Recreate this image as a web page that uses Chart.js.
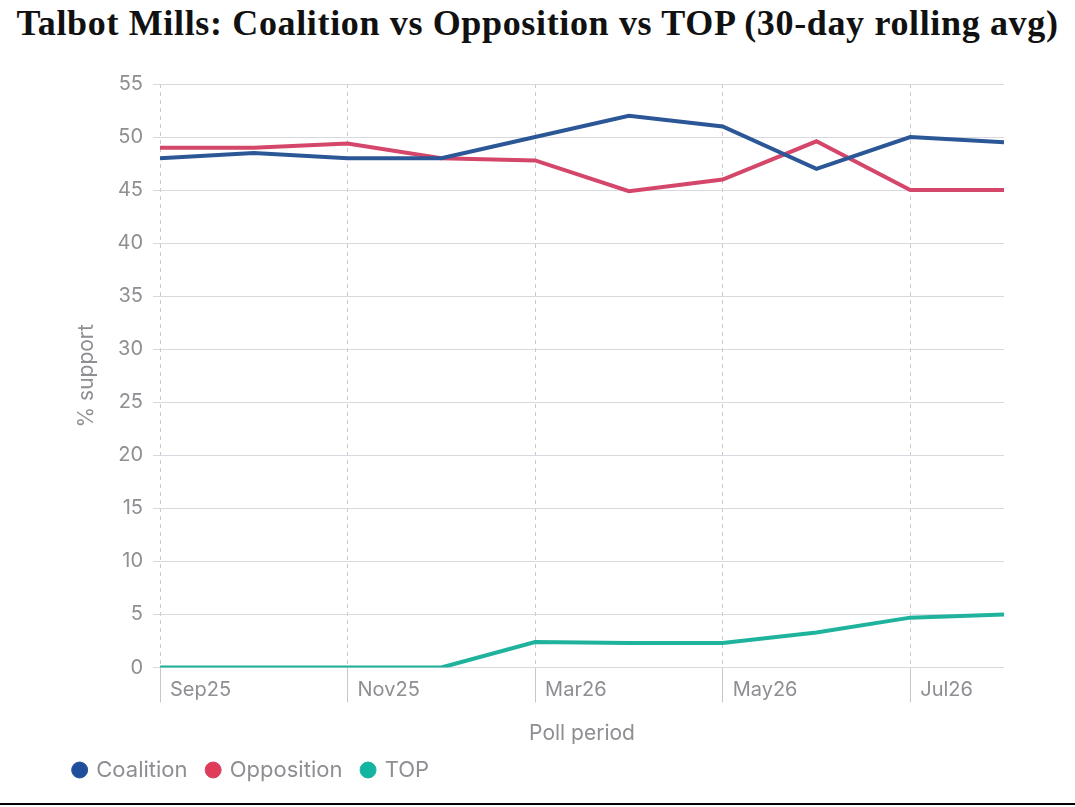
<!DOCTYPE html>
<html>
<head>
<meta charset="utf-8">
<script src="https://cdn.jsdelivr.net/npm/chart.js@4"></script>
<style>
  html, body { margin: 0; padding: 0; background: #fff; width: 1075px; height: 807px; overflow: hidden; }
  #title { position: absolute; left: 0; top: 0px; width: 1075px; text-align: center; line-height: 46px;
    font-family: "Liberation Serif", "DejaVu Serif", serif; font-weight: bold; font-size: 36px;
    color: #111; letter-spacing: 0.65px; white-space: nowrap; }
  #wrap { position: absolute; left: 0; top: 55px; width: 1075px; height: 745px; }
  #rule { position: absolute; left: 0; top: 803px; width: 1075px; height: 2px; background: #000; }
</style>
</head>
<body>
<div id="title">Talbot Mills: Coalition vs Opposition vs TOP (30-day rolling avg)</div>
<div id="wrap"><canvas id="c"></canvas></div>
<div id="rule"></div>
<script>
const categories = ["Sep25", "Oct25", "Nov25", "Jan26", "Mar26", "Apr26", "May26", "Jun26", "Jul26", "Aug26"];
const coalition  = [48, 48.5, 48, 48, 50, 52, 51, 47, 50, 49.5];
const opposition = [49, 49, 49.4, 48, 47.8, 44.9, 46, 49.6, 45, 45];
const topParty   = [0, 0, 0, 0, 2.4, 2.3, 2.3, 3.3, 4.7, 5.0];
const yTicks = [0, 5, 10, 15, 20, 25, 30, 35, 40, 45, 50, 55];

const gray = "#8e8e93";
const font = "Inter, 'Noto Sans', sans-serif";

new Chart(document.getElementById("c"), {
  type: "line",
  data: {
    labels: categories,
    datasets: [
      { label: "Coalition", data: coalition, borderColor: "#2b5797", backgroundColor: "#1f4f9c" },
      { label: "Opposition", data: opposition, borderColor: "#d4476a", backgroundColor: "#e03c5a" },
      { label: "TOP", data: topParty, borderColor: "#1fb39d", backgroundColor: "#12b5a0" }
    ]
  },
  options: {
    responsive: true,
    maintainAspectRatio: false,
    animation: false,
    devicePixelRatio: 1,
    layout: { padding: { top: 29, left: 54, right: 71, bottom: 9 } },
    elements: {
      line: { borderWidth: 4, tension: 0 },
      point: { radius: 0, hoverRadius: 0 }
    },
    plugins: {
      title: { display: false },
      tooltip: { enabled: false },
      legend: {
        position: "bottom",
        align: "start",
        labels: {
          usePointStyle: true,
          pointStyle: "circle",
          boxWidth: 11.3,
          boxHeight: 11.3,
          padding: 20,
          color: gray,
          font: { family: font, size: 22 }
        }
      }
    },
    scales: {
      x: {
        afterFit: (s) => { s.height = 71.5; },
        grid: {
          color: (ctx) => (ctx.index % 2 === 0 ? "#c8c8cc" : "rgba(0,0,0,0)"),
          lineWidth: 1,
          tickLength: 35,
          drawOnChartArea: true
        },
        border: { display: false, dash: [4, 4] },
        ticks: {
          autoSkip: false,
          maxRotation: 0,
          align: "start",
          labelOffset: 10,
          padding: -25,
          color: gray,
          font: { family: font, size: 20 },
          callback: function (v, i) { return i % 2 === 0 ? categories[i] : ""; }
        },
        title: {
          display: true,
          text: "Poll period",
          color: gray,
          font: { family: font, size: 21 },
          padding: { top: 0, bottom: -7 }
        }
      },
      y: {
        min: 0,
        max: 55,
        afterFit: (s) => { s.width = 106; },
        afterBuildTicks: (s) => { s.ticks = yTicks.map(v => ({ value: v })); },
        border: { display: false },
        grid: { color: "#d8d8de", lineWidth: 1, tickLength: 7 },
        ticks: {
          padding: 10,
          color: gray,
          font: { family: font, size: 20 }
        },
        title: {
          display: true,
          text: "% support",
          color: gray,
          font: { family: font, size: 21 },
          padding: { top: 20, bottom: 0 }
        }
      }
    }
  }
});
</script>
</body>
</html>
